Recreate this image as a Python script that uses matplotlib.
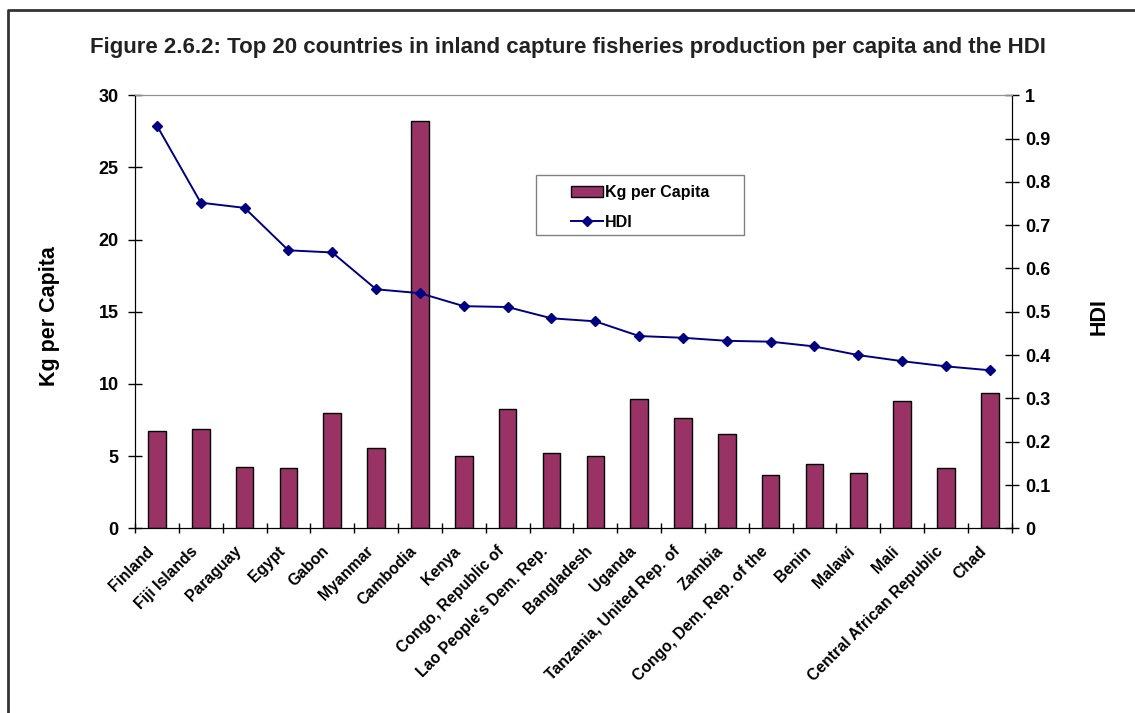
import matplotlib
matplotlib.use("Agg")
import matplotlib.pyplot as plt
from matplotlib.lines import Line2D
from matplotlib.patches import Rectangle
import numpy as np

plt.rcParams['font.family'] = ['Liberation Sans', 'DejaVu Sans']

countries = ["Finland", "Fiji Islands", "Paraguay", "Egypt", "Gabon", "Myanmar",
             "Cambodia", "Kenya", "Congo, Republic of", "Lao People's Dem. Rep.",
             "Bangladesh", "Uganda", "Tanzania, United Rep. of", "Zambia",
             "Congo, Dem. Rep. of the", "Benin", "Malawi", "Mali",
             "Central African Republic", "Chad"]
kg_per_capita = [6.73, 6.91, 4.25, 4.18, 8.02, 5.59, 28.2, 5.03, 8.29, 5.20,
                 5.03, 8.95, 7.63, 6.56, 3.72, 4.44, 3.81, 8.83, 4.16, 9.36]
hdi = [0.930, 0.752, 0.740, 0.642, 0.637, 0.552, 0.543, 0.513, 0.511, 0.485,
       0.478, 0.444, 0.440, 0.433, 0.431, 0.420, 0.400, 0.386, 0.374, 0.365]
left_ticks = [0, 5, 10, 15, 20, 25, 30]
right_ticks = [0, 0.1, 0.2, 0.3, 0.4, 0.5, 0.6, 0.7, 0.8, 0.9, 1]
right_labels = ['0', '0.1', '0.2', '0.3', '0.4', '0.5', '0.6', '0.7', '0.8', '0.9', '1']

W, H = 1135, 713
fig = plt.figure(figsize=(W / 100, H / 100), dpi=100)
ax = fig.add_axes([135 / W, 1 - 528.3 / H, 876.7 / W, 433 / H])
ax2 = ax.twinx()

x = np.arange(len(countries)) + 0.5
bars = ax.bar(x, kg_per_capita, width=0.40, color='#993366', edgecolor='black',
              linewidth=1.0, label='Kg per Capita', zorder=2)
line, = ax2.plot(x, hdi, color='#000080', linewidth=1.4, marker='D',
                 markersize=5.5, markerfacecolor='#000080',
                 markeredgecolor='#000080', label='HDI', zorder=3)

ax.set_xlim(0, len(countries))
ax.set_ylim(0, 30)
ax2.set_ylim(0, 1)

ax.set_yticks(left_ticks)
ax.set_yticklabels([str(t) for t in left_ticks], fontsize=13, fontweight='bold')
ax2.set_yticks(right_ticks)
ax2.set_yticklabels(right_labels, fontsize=13, fontweight='bold')

# category boundaries carry the visible ticks; labels sit on invisible minor ticks
ax.set_xticks(np.arange(len(countries) + 1))
ax.set_xticklabels([])
ax.set_xticks(x - 0.25, minor=True)
ax.set_xticklabels(countries, minor=True, rotation=45, ha='right', va='top',
                   rotation_mode='anchor', fontsize=11.3, fontweight='bold')
ax.tick_params(axis='x', which='minor', length=0, pad=11)
ax.tick_params(axis='x', which='major', direction='inout', length=7, width=1)
ax.tick_params(axis='y', direction='inout', length=9.5, width=1, pad=7)
ax2.tick_params(axis='y', direction='inout', length=9.5, width=1, pad=5)

for a in (ax, ax2):
    a.spines['top'].set_color('#909090')
    a.spines['left'].set_color('black')
    a.spines['right'].set_color('black')
    a.spines['bottom'].set_color('black')
    a.patch.set_visible(False)

ax.set_ylabel('Kg per Capita', fontsize=15.5, fontweight='bold')
ax.yaxis.set_label_coords(-0.0856, 0.49)
ax2.set_ylabel('HDI', fontsize=15.5, fontweight='bold', rotation=90)
ax2.yaxis.set_label_coords(1.088, 0.49)

# legend box with the entries placed inside it
fig.add_artist(Rectangle((536 / W, 1 - 235 / H), 208 / W, 60 / H,
                         transform=fig.transFigure, facecolor='white',
                         edgecolor='#808080', linewidth=1.0, zorder=4))
leg = fig.legend(handles=[bars, line], labels=['Kg per Capita', 'HDI'],
                 loc='upper left', bbox_to_anchor=(566 / W, 1 - 180 / H),
                 frameon=False, prop={'weight': 'bold', 'size': 11.5},
                 borderpad=0.3, labelspacing=0.95, handlelength=2.0,
                 handletextpad=0.15, borderaxespad=0)
leg.set_zorder(5)

fig.text(0.5, 1 - 47 / H, 'Figure 2.6.2: Top 20 countries in inland capture fisheries '
         'production per capita and the HDI', ha='center', va='center',
         fontsize=16, fontweight='bold', color='#222222')

# outer frame
fig.add_artist(Line2D([7.5 / W, 7.5 / W, 1.0], [0.0, 1 - 10 / H, 1 - 10 / H],
                      transform=fig.transFigure, color='#333333', linewidth=2))

fig.savefig('out.png', dpi=100)
